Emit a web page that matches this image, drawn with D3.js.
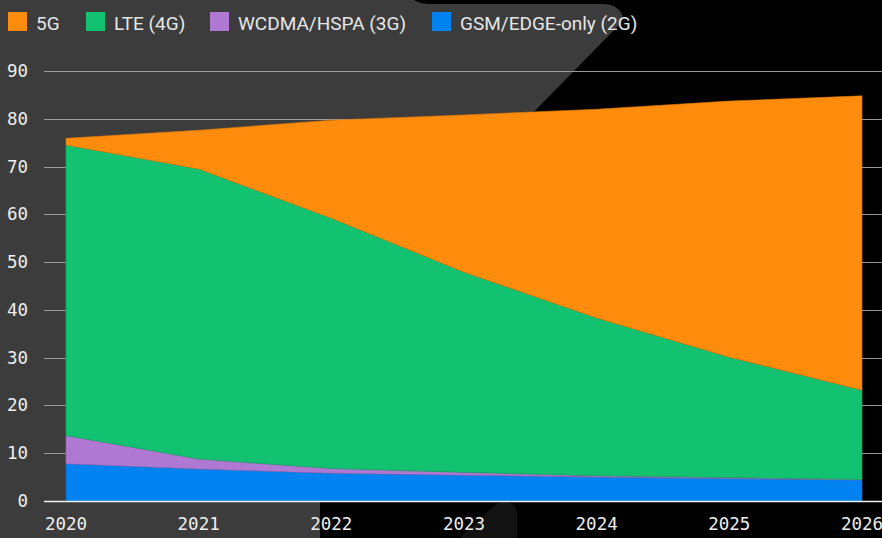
<!DOCTYPE html>
<html>
<head>
<meta charset="utf-8">
<script src="https://cdn.jsdelivr.net/npm/d3@7"></script>
<style>
  html, body { margin: 0; padding: 0; background: #000; }
  svg { display: block; }
</style>
</head>
<body>
<svg id="rootSVG" width="882" height="538"></svg>
<script>
// data (millions of subscriptions, stacked)
const years = [2020, 2021, 2022, 2023, 2024, 2025, 2026];
const gsm = [7.8, 6.7, 5.8, 5.4, 5.0, 4.7, 4.4];
const wcdma = [5.9, 2.1, 1.0, 0.6, 0.3, 0.2, 0.1];
const lte = [60.8, 60.7, 52.4, 41.9, 33.0, 25.2, 18.7];
const nr = [1.4, 8.1, 20.5, 32.9, 43.7, 53.6, 61.6];

const seriesNames = ["5G", "LTE (4G)", "WCDMA/HSPA (3G)", "GSM/EDGE-only (2G)"];
const seriesColors = ["#ff8c0c", "#12c270", "#af78d2", "#0082f0"];
const yTicks = [0, 10, 20, 30, 40, 50, 60, 70, 80, 90];

const svg = d3.select("#rootSVG");
const width = 882, height = 538;
const margin = {top: 71, right: 20, bottom: 37, left: 66};

// background decoration: grey slab on the left, black on the right
svg.append("rect").attr("width", width).attr("height", height).attr("fill", "#000");
svg.append("path")
  .attr("fill", "#3c3c3c")
  .attr("d", "M0,0 L414,0 Q420,4 430,4 L604,4 Q616,4 622,14 Q624,20 618,26 L320,330 L320,538 L0,538 Z");
svg.append("path")
  .attr("fill", "#131313")
  .attr("d", "M460,538 L494,506 Q498,502 506,502 Q516,503 517,512 L517,538 Z");

const x = d3.scaleLinear()
  .domain(d3.extent(years))
  .range([margin.left, width - margin.right]);

const y = d3.scaleLinear()
  .domain([0, 90])
  .range([height - margin.bottom, margin.top]);

// grid lines
svg.append("g")
  .selectAll("line")
  .data(yTicks.filter(d => d > 0))
  .join("line")
  .attr("x1", 44).attr("x2", width)
  .attr("y1", d => Math.round(y(d)) + 0.5).attr("y2", d => Math.round(y(d)) + 0.5)
  .attr("stroke", "#9a9a9a")
  .attr("stroke-width", 1);

// stacking
const rows = years.map((yr, i) => ({year: yr, gsm: gsm[i], wcdma: wcdma[i], lte: lte[i], nr: nr[i]}));
const keys = ["gsm", "wcdma", "lte", "nr"];
const stack = d3.stack().keys(keys)(rows);
const colorByKey = {nr: seriesColors[0], lte: seriesColors[1], wcdma: seriesColors[2], gsm: seriesColors[3]};

const area = d3.area()
  .x(d => x(d.data.year))
  .y0(d => y(d[0]))
  .y1(d => y(d[1]));

svg.append("g")
  .selectAll("path")
  .data(stack)
  .join("path")
  .attr("d", area)
  .attr("fill", d => colorByKey[d.key])
  .attr("stroke", d => d3.color(colorByKey[d.key]).darker(0.4))
  .attr("stroke-width", 0.6);

// baseline
svg.append("line")
  .attr("x1", 44).attr("x2", width)
  .attr("y1", y(0) + 0.5).attr("y2", y(0) + 0.5)
  .attr("stroke", "#f0f0f0")
  .attr("stroke-width", 1.5);

// y tick labels
svg.append("g")
  .selectAll("text")
  .data(yTicks)
  .join("text")
  .attr("x", 28)
  .attr("y", d => y(d) + 6)
  .attr("text-anchor", "end")
  .attr("fill", "#eeeeee")
  .style("font", "17.5px 'DejaVu Sans Mono', monospace")
  .text(d => d);

// x tick labels
svg.append("g")
  .selectAll("text")
  .data(years)
  .join("text")
  .attr("x", d => x(d))
  .attr("y", 530)
  .attr("text-anchor", "middle")
  .attr("fill", "#eeeeee")
  .style("font", "17.5px 'DejaVu Sans Mono', monospace")
  .text(d => d);

// legend
const legendX = [8, 86, 210, 432];
const legend = svg.append("g")
  .selectAll("g")
  .data(seriesNames)
  .join("g")
  .attr("transform", (d, i) => `translate(${legendX[i]},12)`);

legend.append("rect")
  .attr("width", 19).attr("height", 19)
  .attr("fill", (d, i) => seriesColors[i]);

legend.append("text")
  .attr("x", 28).attr("y", 18)
  .attr("fill", "#e6e6e6")
  .style("font", "19px Roboto, sans-serif")
  .text(d => d);
</script>
</body>
</html>
